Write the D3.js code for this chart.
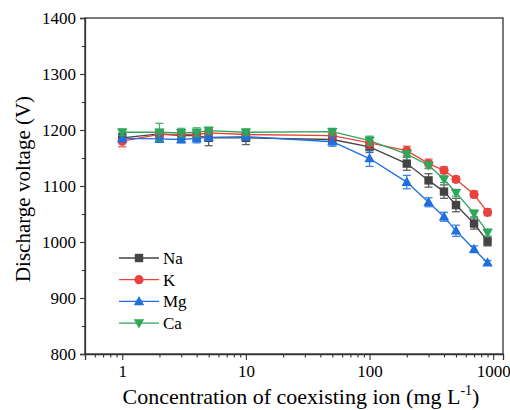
<!DOCTYPE html>
<html lang="en">
<head>
<meta charset="UTF-8">
<title>Discharge voltage vs coexisting ion</title>
<script src="https://d3js.org/d3.v7.min.js"></script>
<style>
  body { margin: 0; background: #fff; }
</style>
</head>
<body>
<svg id="chart" width="510" height="410"></svg>
<script>
// concentrations (mg/L)
var conc = [1, 2, 3, 4, 5, 10, 50, 100, 200, 300, 400, 500, 700, 900];

var naVals = [1186, 1193, 1190, 1190, 1186, 1186, 1183, 1170, 1140, 1110, 1090, 1066, 1033, 1001];
var naErr  = [8, 8, 10, 8, 14, 12, 8, 10, 12, 12, 12, 12, 10, 8];
var kVals  = [1180, 1192, 1192, 1192, 1195, 1192, 1190, 1177, 1163, 1140, 1128, 1112, 1085, 1053];
var kErr   = [10, 8, 8, 8, 6, 8, 8, 10, 8, 8, 6, 5, 6, 6];
var mgVals = [1185, 1184, 1183, 1185, 1187, 1188, 1179, 1149, 1107, 1071, 1045, 1020, 987, 963];
var mgErr  = [6, 6, 6, 8, 6, 6, 8, 14, 12, 8, 8, 10, 6, 4];
var caVals = [1196, 1196, 1195, 1196, 1199, 1196, 1197, 1181, 1157, 1137, 1112, 1088, 1051, 1017];
var caErr  = [6, 16, 8, 8, 6, 6, 6, 8, 6, 6, 6, 6, 6, 6];

var seriesNames = ["Na", "K", "Mg", "Ca"];
var seriesColors = ["#444444", "#e8423c", "#1f6fe0", "#2ea65b"];
var seriesShapes = ["square", "circle", "triangle", "triangleDown"];

var xTicks = [1, 10, 100, 1000];
var yTicks = [800, 900, 1000, 1100, 1200, 1300, 1400];

var FONT = "'Liberation Serif', 'Times New Roman', Times, 'Nimbus Roman', 'DejaVu Serif', serif";

var svg = d3.select("#chart").style("font-family", FONT);
var margin = {top: 18, right: 7, bottom: 56, left: 85};
var W = 510 - margin.left - margin.right,
    H = 410 - margin.top - margin.bottom;

var g = svg.append("g").attr("transform", "translate(" + margin.left + "," + margin.top + ")");

var x = d3.scaleLog().domain([0.5, 1200]).range([0, W]);
var y = d3.scaleLinear().domain([800, 1400]).range([H, 0]);

// minor ticks
var xMinor = [];
[0.1, 1, 10, 100].forEach(function(dec) {
  for (var i = 2; i <= 9; i++) {
    var v = dec * i;
    if (v >= 0.5 && v <= 1200) xMinor.push(v);
  }
});
var yMinor = [850, 950, 1050, 1150, 1250, 1350];

// frame
g.append("rect")
  .attr("width", W).attr("height", H)
  .attr("fill", "none").attr("stroke", "#333").attr("stroke-width", 1.3);

g.append("g").attr("transform", "translate(0," + H + ")")
  .call(d3.axisBottom(x).tickValues(xTicks).tickFormat(d3.format("d")).tickSize(6).tickPadding(5));
g.append("g").attr("transform", "translate(0," + H + ")")
  .call(d3.axisBottom(x).tickValues(xMinor).tickFormat("").tickSize(3.5))
  .select(".domain").remove();

g.append("g")
  .call(d3.axisLeft(y).tickValues(yTicks).tickFormat(d3.format("d")).tickSize(5).tickPadding(4));
g.append("g")
  .call(d3.axisLeft(y).tickValues(yMinor).tickFormat("").tickSize(3))
  .select(".domain").remove();

g.selectAll("g").attr("font-family", null);
g.selectAll(".domain").attr("stroke", "#333").attr("stroke-width", 1.3);
g.selectAll(".tick line").attr("stroke", "#333").attr("stroke-width", 1.1);
g.selectAll(".tick text").attr("font-family", FONT).attr("font-size", 17).attr("fill", "#000");

// axis titles
svg.append("text")
  .attr("x", 301).attr("y", 404)
  .attr("text-anchor", "middle").attr("font-family", FONT).attr("font-size", 22)
  .html('Concentration of coexisting ion (mg L<tspan dy="-9" font-size="14">-1</tspan><tspan dy="9">)</tspan>');

svg.append("text")
  .attr("transform", "translate(30," + (margin.top + H / 2 + 3) + ") rotate(-90)")
  .attr("text-anchor", "middle").attr("font-family", FONT).attr("font-size", 21)
  .text("Discharge voltage (V)");

function marker(sel, shape, color) {
  var s = 4.2;
  if (shape === "square") {
    sel.append("rect").attr("x", -s).attr("y", -s).attr("width", 2 * s).attr("height", 2 * s).attr("fill", color);
  } else if (shape === "circle") {
    sel.append("circle").attr("r", s + 0.4).attr("fill", color);
  } else if (shape === "triangle") {
    sel.append("path").attr("d", "M0,-5.5L5.2,3.8L-5.2,3.8Z").attr("fill", color);
  } else {
    sel.append("path").attr("d", "M0,5.5L5.2,-3.8L-5.2,-3.8Z").attr("fill", color);
  }
}

var allVals = [naVals, kVals, mgVals, caVals];
var allErr = [naErr, kErr, mgErr, caErr];

var line = d3.line()
  .x(function(d) { return x(d.c); })
  .y(function(d) { return y(d.v); });

allVals.forEach(function(vals, si) {
  var color = seriesColors[si];
  var data = conc.map(function(c, i) { return {c: c, v: vals[i], e: allErr[si][i]}; });
  var sg = g.append("g");

  sg.append("path").datum(data)
    .attr("d", line).attr("fill", "none")
    .attr("stroke", color).attr("stroke-width", 1.3);

  var eb = sg.selectAll(".eb").data(data).enter().append("g")
    .attr("stroke", color).attr("stroke-width", 1.3).attr("opacity", 0.85);
  eb.append("line")
    .attr("x1", function(d) { return x(d.c); }).attr("x2", function(d) { return x(d.c); })
    .attr("y1", function(d) { return y(d.v - d.e); }).attr("y2", function(d) { return y(d.v + d.e); });
  eb.append("line")
    .attr("x1", function(d) { return x(d.c) - 4; }).attr("x2", function(d) { return x(d.c) + 4; })
    .attr("y1", function(d) { return y(d.v + d.e); }).attr("y2", function(d) { return y(d.v + d.e); });
  eb.append("line")
    .attr("x1", function(d) { return x(d.c) - 4; }).attr("x2", function(d) { return x(d.c) + 4; })
    .attr("y1", function(d) { return y(d.v - d.e); }).attr("y2", function(d) { return y(d.v - d.e); });

  sg.selectAll(".pt").data(data).enter().append("g")
    .attr("transform", function(d) { return "translate(" + x(d.c) + "," + y(d.v) + ")"; })
    .each(function() { marker(d3.select(this), seriesShapes[si], color); });
});

// legend
var legend = svg.append("g").attr("transform", "translate(119,258)");
seriesNames.forEach(function(name, i) {
  var row = legend.append("g").attr("transform", "translate(0," + (i * 21.7) + ")");
  row.append("line").attr("x1", 0).attr("x2", 40)
    .attr("stroke", seriesColors[i]).attr("stroke-width", 1.3);
  var m = row.append("g").attr("transform", "translate(20,0)");
  marker(m, seriesShapes[i], seriesColors[i]);
  row.append("text").attr("x", 44).attr("y", 6)
    .attr("font-family", FONT).attr("font-size", 17).text(name);
});
</script>
</body>
</html>
